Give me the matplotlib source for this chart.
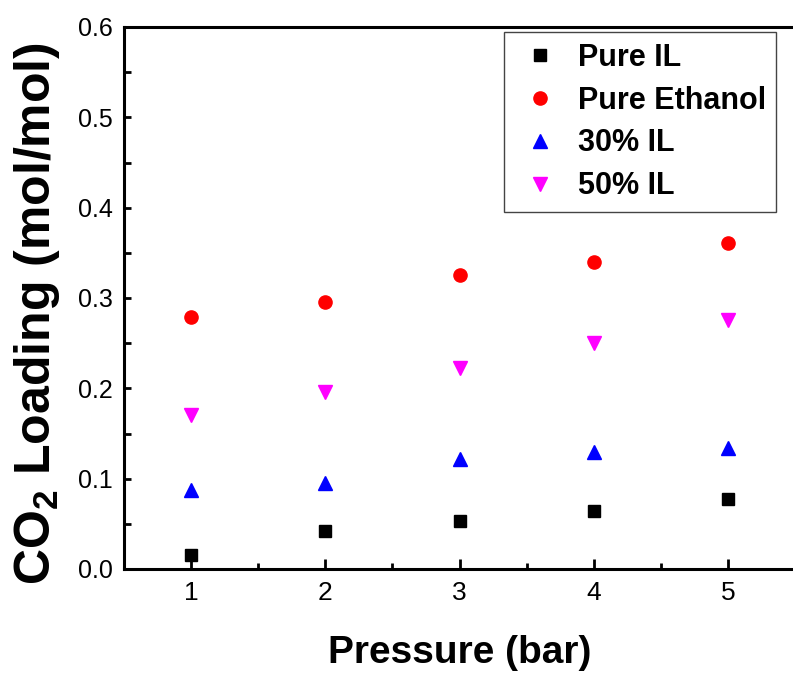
import matplotlib
matplotlib.use("Agg")
import matplotlib.pyplot as plt
from matplotlib.ticker import MultipleLocator

# Datos
pressure = [1, 2, 3, 4, 5]
pure_il = [0.016, 0.042, 0.053, 0.064, 0.078]
pure_ethanol = [0.279, 0.296, 0.326, 0.340, 0.361]
il_30 = [0.088, 0.095, 0.122, 0.129, 0.134]
il_50 = [0.170, 0.196, 0.222, 0.250, 0.276]

plt.rcParams['font.family'] = ['Liberation Sans', 'DejaVu Sans']
plt.rcParams['mathtext.fontset'] = 'custom'
plt.rcParams['mathtext.rm'] = 'Liberation Sans'
plt.rcParams['mathtext.bf'] = 'Liberation Sans:bold'

W, H = 793, 676
fig = plt.figure(figsize=(W / 100, H / 100), dpi=100)
ax = fig.add_axes([124 / W, 1 - 569 / H, (795 - 124) / W, (569 - 27) / H])

ax.plot(pressure, pure_il, "s", color="black", ms=8, ls="none", label="Pure IL")
ax.plot(pressure, pure_ethanol, "o", color="red", ms=9.5, ls="none", label="Pure Ethanol")
ax.plot(pressure, il_30, "^", color="blue", ms=10.5, ls="none", label="30% IL")
ax.plot(pressure, il_50, "v", color="magenta", ms=10.5, ls="none", label="50% IL")

ax.set_xlim(0.5, 5.5)
ax.set_ylim(0, 0.6)
ax.xaxis.set_major_locator(MultipleLocator(1))
ax.xaxis.set_minor_locator(MultipleLocator(0.5))
ax.yaxis.set_major_locator(MultipleLocator(0.1))
ax.yaxis.set_minor_locator(MultipleLocator(0.05))

for s in ax.spines.values():
    s.set_linewidth(2.2)

ax.tick_params(axis="x", which="major", direction="in", length=7, width=2, labelsize=19, pad=9)
ax.tick_params(axis="x", which="minor", direction="in", length=4, width=2)
ax.tick_params(axis="y", which="both", direction="in", length=5, width=2, labelsize=18, pad=8)

ax.set_xlabel("Pressure (bar)", fontsize=28, fontweight="bold", labelpad=21)
ax.set_ylabel(r"CO$_\mathbf{2}$ Loading (mol/mol)", fontsize=36, fontweight="bold")
ax.yaxis.set_label_coords(-0.0924, 0.471)

leg = ax.legend(loc="upper left", bbox_to_anchor=(504 / W, 1 - 32 / H),
                bbox_transform=fig.transFigure, borderaxespad=0,
                prop={"weight": "bold", "size": 22}, numpoints=1,
                handlelength=1.65, handletextpad=0.41, labelspacing=0.42,
                borderpad=0.35, fancybox=False, framealpha=1)
leg.get_frame().set_edgecolor("#444444")
leg.get_frame().set_linewidth(1.0)

plt.savefig("out.png", dpi=100)
